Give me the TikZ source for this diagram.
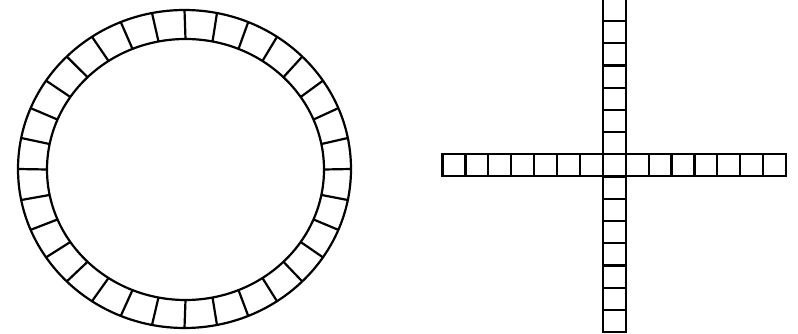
\documentclass[tikz,border=0pt]{standalone}
\usepackage{tikz}

\begin{document}
\begin{tikzpicture}[
  x=1pt, y=-1pt,
  ringline/.style={line width=2.2pt},
  cell/.style={draw, line width=2.2pt}
]
\useasboundingbox (0,0) rectangle (798,334);

% ring of 32 segments
\draw[ringline] (184.5,169) ellipse [x radius=166.5, y radius=159];
\draw[ringline] (185.5,169.5) ellipse [x radius=138.5, y radius=130.5];
\foreach \a in {0,11.25,...,348.75}
  \draw[ringline] ({185.5+138.5*cos(\a)},{169.5+130.5*sin(\a)}) -- ({184.5+166.5*cos(\a)},{169+159*sin(\a)});

% cross: horizontal and vertical rows of cells
\foreach \i in {0,...,14}
  \draw[cell] ({442.5+\i*22.9},154) rectangle +(22.9,22);
\foreach \i in {0,...,14}
  \draw[cell] (602.8,{-1+\i*22.2}) rectangle +(22.9,22.2);
\end{tikzpicture}
\end{document}
